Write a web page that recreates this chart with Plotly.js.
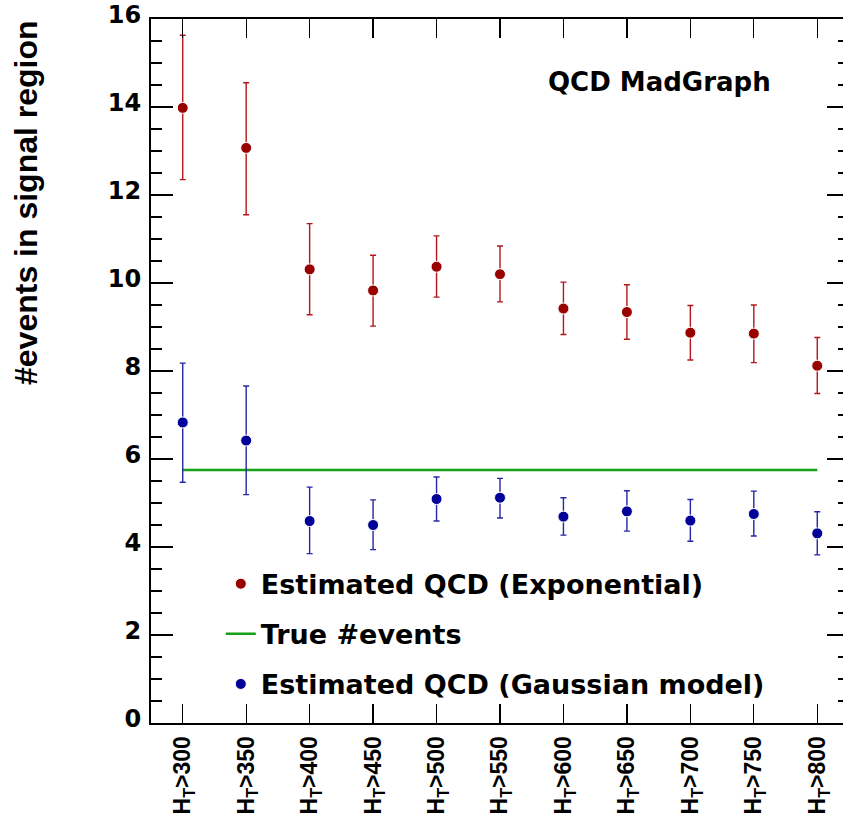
<!DOCTYPE html>
<html>
<head>
<meta charset="utf-8">
<script src="https://cdn.plot.ly/plotly-3.0.1.min.js"></script>
<style>
html,body{margin:0;padding:0;overflow:hidden;background:#fff;}
#chart{width:850px;height:816px;}
</style>
</head>
<body>
<div id="chart"></div>
<script>
// Categories (HT cuts)
var categories = ["H<sub>T</sub>>300","H<sub>T</sub>>350","H<sub>T</sub>>400","H<sub>T</sub>>450","H<sub>T</sub>>500","H<sub>T</sub>>550","H<sub>T</sub>>600","H<sub>T</sub>>650","H<sub>T</sub>>700","H<sub>T</sub>>750","H<sub>T</sub>>800"];

// Estimated QCD (Exponential)
var expValues = [13.98, 13.07, 10.31, 9.83, 10.37, 10.20, 9.42, 9.34, 8.87, 8.85, 8.12];
var expUpper  = [15.63, 14.55, 11.35, 10.63, 11.07, 10.84, 10.02, 9.96, 9.49, 9.50, 8.76];
var expLower  = [12.35, 11.55, 9.28, 9.02, 9.68, 9.57, 8.83, 8.72, 8.25, 8.19, 7.49];

// True #events
var trueEvents = [5.75, 5.75, 5.75, 5.75, 5.75, 5.75, 5.75, 5.75, 5.75, 5.75, 5.75];

// Estimated QCD (Gaussian model)
var gausValues = [6.83, 6.42, 4.59, 4.50, 5.09, 5.12, 4.69, 4.81, 4.60, 4.75, 4.31];
var gausUpper  = [8.18, 7.66, 5.36, 5.07, 5.59, 5.56, 5.12, 5.28, 5.08, 5.27, 4.80];
var gausLower  = [5.47, 5.19, 3.85, 3.94, 4.59, 4.66, 4.27, 4.36, 4.13, 4.25, 3.82];

function diff(a, b) { return a.map(function (v, i) { return +(v - b[i]).toFixed(3); }); }

var BOLD = "DejaVu Sans, sans-serif";
var BOLD_H = "Liberation Sans, Arial, sans-serif";

var traces = [
  {
    type: "scatter", mode: "markers", name: "Estimated QCD (Exponential)",
    x: categories, y: expValues, legendgroup: "a",
    marker: {color: "#990000", size: 11, line: {color: "#ffffff", width: 1}},
    error_y: {type: "data", symmetric: false, array: diff(expUpper, expValues),
              arrayminus: diff(expValues, expLower), color: "#b3171d", thickness: 1.4, width: 3}
  },
  {
    type: "scatter", mode: "lines", name: "True #events",
    x: categories, y: trueEvents, legendgroup: "b",
    line: {color: "#16a116", width: 2.5}
  },
  {
    type: "scatter", mode: "markers", name: "Estimated QCD (Gaussian model)",
    x: categories, y: gausValues, legendgroup: "c",
    marker: {color: "#000099", size: 11, line: {color: "#ffffff", width: 1}},
    error_y: {type: "data", symmetric: false, array: diff(gausUpper, gausValues),
              arrayminus: diff(gausValues, gausLower), color: "#2626a8", thickness: 1.4, width: 3}
  }
];

var layout = {
  width: 850, height: 816,
  margin: {l: 151, r: 1, t: 19, b: 93, pad: 0},
  paper_bgcolor: "#ffffff", plot_bgcolor: "#ffffff",
  showlegend: true,
  legend: {
    x: 0.1, y: 0.232, xanchor: "left", yanchor: "top",
    bgcolor: "rgba(0,0,0,0)", borderwidth: 0,
    font: {family: BOLD, size: 27, color: "#000", weight: "bold"},
    tracegroupgap: 12, itemsizing: "trace", traceorder: "grouped"
  },
  xaxis: {
    type: "category", range: [-0.5, 10.5], fixedrange: true,
    showline: true, linecolor: "#000", linewidth: 2, mirror: "ticks",
    ticks: "inside", ticklen: 19, tickwidth: 1.3, tickcolor: "#000",
    showgrid: false, zeroline: false, tickangle: -90,
    tickfont: {family: BOLD_H, size: 23, color: "#000", weight: "bold"},
    ticklabelstandoff: 2
  },
  yaxis: {
    range: [0, 16], dtick: 2, tick0: 0, fixedrange: true,
    showline: true, linecolor: "#000", linewidth: 2, mirror: "ticks",
    ticks: "inside", ticklen: 22, tickwidth: 1.3, tickcolor: "#000",
    minor: {dtick: 0.5, ticks: "inside", ticklen: 11, tickwidth: 1.3, tickcolor: "#000", showgrid: false},
    showgrid: false, zeroline: false,
    tickfont: {family: BOLD, size: 24, color: "#000", weight: "bold"},
    ticklabelstandoff: 3, ticklabelshift: -4
  },
  annotations: [
    {text: "QCD MadGraph", xref: "paper", yref: "paper", x: 0.728, y: 0.91,
     xanchor: "center", yanchor: "middle", showarrow: false,
     font: {family: BOLD, size: 26, color: "#000", weight: "bold"}},
    {text: "#events in signal region", xref: "paper", yref: "paper",
     x: (26 - 151) / 698, y: (723 - 203) / 704, xanchor: "center", yanchor: "middle",
     textangle: -90, showarrow: false,
     font: {family: BOLD_H, size: 32, color: "#000", weight: "bold"}}
  ]
};

Plotly.newPlot("chart", traces, layout, {displayModeBar: false, staticPlot: true});
</script>
</body>
</html>
